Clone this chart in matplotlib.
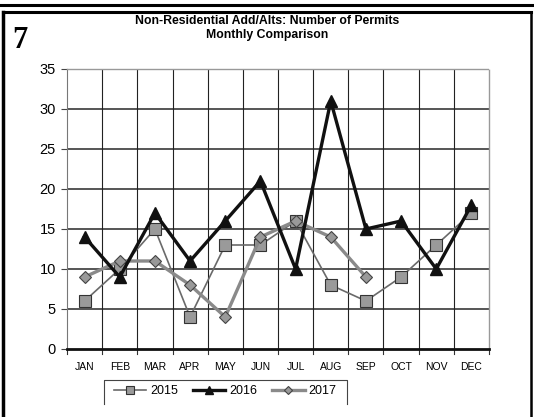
import matplotlib
matplotlib.use("Agg")
import matplotlib.pyplot as plt
from matplotlib.lines import Line2D
import numpy as np

months = ["JAN", "FEB", "MAR", "APR", "MAY", "JUN", "JUL", "AUG", "SEP", "OCT", "NOV", "DEC"]
permits_2015 = [6, 10, 15, 4, 13, 13, 16, 8, 6, 9, 13, 17]
permits_2016 = [14, 9, 17, 11, 16, 21, 10, 31, 15, 16, 10, 18]
permits_2017 = [9, 11, 11, 8, 4, 14, 16, 14, 9]
y_ticks = [0, 5, 10, 15, 20, 25, 30, 35]

plt.rcParams["font.family"] = ["Liberation Sans", "DejaVu Sans"]

fig = plt.figure(figsize=(5.34, 4.17), dpi=100)
ax = fig.add_axes([67 / 534, 1 - 349 / 417, (489 - 67) / 534, (349 - 69) / 417])

x = np.arange(len(months))
ax.set_xlim(-0.5, len(months) - 0.5)
ax.set_ylim(0, 35)

# gridlines
for yv in y_ticks[1:-1]:
    ax.axhline(yv, color="#555555", lw=1.4, zorder=1)
for b in np.arange(0.5, len(months) - 0.5, 1):
    ax.axvline(b, color="#222222", lw=0.8, zorder=1)

ax.plot(x, permits_2015, color="#6a6a6a", lw=1.2, marker="s", ms=8,
        mfc="#9a9a9a", mec="#333333", mew=0.8, zorder=3, label="2015")
ax.plot(x, permits_2016, color="#111111", lw=2.4, marker="^", ms=8,
        mfc="#111111", mec="#111111", zorder=4, label="2016")
ax.plot(x[:len(permits_2017)], permits_2017, color="#8a8a8a", lw=2.4, marker="D", ms=6,
        mfc="#999999", mec="#444444", mew=0.8, zorder=3, label="2017")

ax.set_yticks(y_ticks)
ax.set_yticklabels([str(v) for v in y_ticks], fontsize=10.5)
ax.set_xticks(x)
ax.set_xticklabels(months, fontsize=7.5)
ax.tick_params(axis="x", length=0, pad=9)
ax.tick_params(axis="y", length=4, width=0.8, color="#444444", pad=4)

for side in ["top", "right"]:
    ax.spines[side].set_color("#999999")
    ax.spines[side].set_linestyle((0, (1, 1)))
    ax.spines[side].set_linewidth(1.0)
ax.spines["left"].set_color("#777777")
ax.spines["left"].set_linewidth(0.8)
ax.spines["bottom"].set_color("#111111")
ax.spines["bottom"].set_linewidth(2.0)

# bottom tick marks at category boundaries
for b in np.arange(-0.5, len(months) + 0.5, 1):
    ax.plot([b, b], [0, -0.6], color="#333333", lw=0.8, clip_on=False, zorder=2)

fig.text(0.5, 1 - 28 / 417, "Non-Residential Add/Alts: Number of Permits\nMonthly Comparison",
         ha="center", va="center", fontsize=8.8, fontweight="bold", linespacing=1.15)
fig.text(20 / 534, 1 - 40 / 417, "7", ha="center", va="center", fontsize=22,
         fontweight="bold", family=["Liberation Serif", "DejaVu Serif"])

# legend
h, l = ax.get_legend_handles_labels()
fig.legend(h, l, loc="center", bbox_to_anchor=(225 / 534, 1 - 391 / 417), ncol=3,
           frameon=False, fontsize=9, handlelength=2.6, columnspacing=1.2,
           handletextpad=0.3, markerscale=0.7)

def fig_line(xs, ys, **kw):
    fig.add_artist(Line2D([v / 534 for v in xs], [1 - v / 417 for v in ys],
                          transform=fig.transFigure, **kw))

# legend box (left, top, right edges)
fig_line([104, 104, 347, 347], [404, 380, 380, 404], color="#444444", lw=0.8)

# outer frame
fig_line([3, 3], [12, 417], color="black", lw=2.5)
fig_line([531, 531], [12, 417], color="black", lw=1.8)
fig_line([3, 531], [12, 12], color="black", lw=2.2)
fig_line([0, 534], [5, 5], color="black", lw=2.2)

fig.savefig("out.png", dpi=100)
